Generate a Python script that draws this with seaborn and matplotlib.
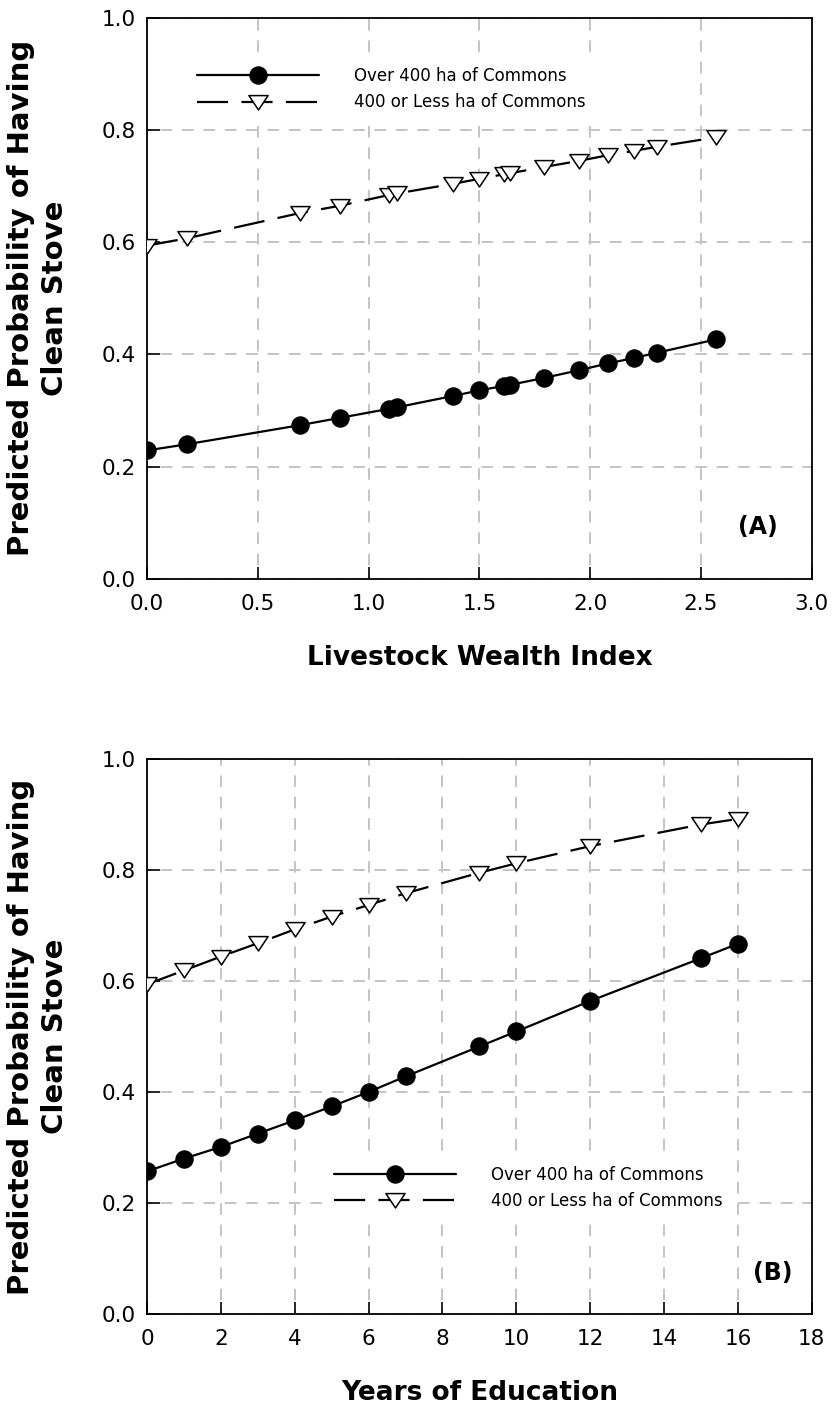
import matplotlib
matplotlib.use("Agg")
import matplotlib.pyplot as plt
import seaborn as sns
import pandas as pd
from matplotlib.path import Path

# ---------------- data ----------------
wealth_x = [0.00, 0.18, 0.69, 0.87, 1.09, 1.13, 1.38, 1.50, 1.61, 1.64, 1.79, 1.95, 2.08, 2.20, 2.30, 2.57]
wealth_over = [0.229, 0.240, 0.274, 0.287, 0.303, 0.306, 0.326, 0.336, 0.344, 0.346, 0.358, 0.372, 0.384, 0.394, 0.403, 0.427]
wealth_less = [0.594, 0.607, 0.652, 0.665, 0.684, 0.687, 0.704, 0.713, 0.721, 0.723, 0.734, 0.745, 0.755, 0.763, 0.770, 0.787]

edu_x = [0, 1, 2, 3, 4, 5, 6, 7, 9, 10, 12, 15, 16]
edu_over = [0.257, 0.280, 0.301, 0.325, 0.349, 0.374, 0.400, 0.428, 0.482, 0.509, 0.564, 0.641, 0.667]
edu_less = [0.594, 0.619, 0.644, 0.668, 0.693, 0.716, 0.737, 0.758, 0.795, 0.812, 0.843, 0.882, 0.892]

series_labels = ["Over 400 ha of Commons", "400 or Less ha of Commons"]
y_label = "Predicted Probability of Having\nClean Stove"
x_labels = ["Livestock Wealth Index", "Years of Education"]
panel_tags = ["(A)", "(B)"]
x_ticks = [[0.0, 0.5, 1.0, 1.5, 2.0, 2.5, 3.0], [0, 2, 4, 6, 8, 10, 12, 14, 16, 18]]
x_ticklabels = [["0.0", "0.5", "1.0", "1.5", "2.0", "2.5", "3.0"],
                ["0", "2", "4", "6", "8", "10", "12", "14", "16", "18"]]
y_ticks = [0.0, 0.2, 0.4, 0.6, 0.8, 1.0]
y_ticklabels = ["0.0", "0.2", "0.4", "0.6", "0.8", "1.0"]

# ---------------- style ----------------
sns.set_theme(style="ticks")
plt.rcParams["font.family"] = ["DejaVu Sans"]
plt.rcParams.update({
    "text.color": "black", "axes.labelcolor": "black",
    "xtick.color": "black", "ytick.color": "black",
    "xtick.direction": "in", "ytick.direction": "in",
    "xtick.major.size": 9, "ytick.major.size": 9,
    "xtick.major.width": 1.2, "ytick.major.width": 1.2,
    "xtick.top": False, "ytick.right": False,
    "xtick.bottom": True, "ytick.left": True,
})

tri = Path([(-1.0, 0.72), (1.0, 0.72), (0.0, -0.78), (-1.0, 0.72)],
           [Path.MOVETO, Path.LINETO, Path.LINETO, Path.CLOSEPOLY])

fig = plt.figure(figsize=(8.33, 14.10), dpi=100)
ax1 = fig.add_axes([0.1765, 0.5894, 0.798, 0.398])
ax2 = fig.add_axes([0.1765, 0.0681, 0.798, 0.3936])

panels = [
    (ax1, wealth_x, wealth_over, wealth_less, (0, 3.0), (0.065, 0.8725), (0.919, 0.093)),
    (ax2, edu_x, edu_over, edu_less, (0, 18), (0.272, 0.227), (0.941, 0.074)),
]

for i, (ax, xs, yo, yl, xlim, leg_anchor, tag_pos) in enumerate(panels):
    df_o = pd.DataFrame({"x": xs, "y": yo})
    df_l = pd.DataFrame({"x": xs, "y": yl})
    sns.lineplot(data=df_o, x="x", y="y", ax=ax, color="black", lw=1.6,
                 marker="o", markersize=12.5, markerfacecolor="black",
                 markeredgecolor="black", label=series_labels[0], zorder=3)
    sns.lineplot(data=df_l, x="x", y="y", ax=ax, color="black", lw=1.6,
                 dashes=(14, 6), marker=tri, markersize=13.8,
                 markerfacecolor="white", markeredgecolor="black",
                 markeredgewidth=1.1, label=series_labels[1], zorder=3)

    ax.set_xlim(*xlim)
    ax.set_ylim(0, 1.0)
    ax.set_xticks(x_ticks[i])
    ax.set_xticklabels(x_ticklabels[i])
    ax.set_yticks(y_ticks)
    ax.set_yticklabels(y_ticklabels)
    ax.grid(True, color="#c4c4c4", lw=1.4, linestyle=(4, (6, 5)), zorder=0)
    ax.set_axisbelow(True)
    for s in ax.spines.values():
        s.set_visible(True)
        s.set_color("black")
        s.set_linewidth(1.3)
    ax.tick_params(axis="both", which="major", direction="in", length=9, width=1.2,
                   color="black", labelcolor="black", labelsize=15.5, left=True, bottom=True,
                   top=False, right=False)
    ax.tick_params(axis="x", pad=11)
    ax.tick_params(axis="y", pad=8)

    ax.set_xlabel(x_labels[i], fontsize=19, fontweight="bold", labelpad=22)
    ax.set_ylabel(y_label, fontsize=21, fontweight="bold", linespacing=1.28)
    ax.yaxis.set_label_coords(-0.117, 0.5)

    leg = ax.legend(loc="center left", bbox_to_anchor=leg_anchor, frameon=True,
                    handlelength=7.3, handletextpad=2.1,
                    labelspacing=0.5, borderpad=0.4, borderaxespad=0.0,
                    fancybox=False, edgecolor="white", framealpha=1.0,
                    prop={"family": "DejaVu Sans", "size": 12})
    leg.get_frame().set_linewidth(0)
    for t in leg.get_texts():
        t.set_color("black")

    ax.text(tag_pos[0], tag_pos[1], panel_tags[i], transform=ax.transAxes,
            ha="center", va="center", fontsize=17, fontweight="bold",
            family="DejaVu Sans", color="black",
            bbox=dict(facecolor="white", edgecolor="none", pad=3), zorder=4)

fig.savefig("out.png", dpi=100, facecolor="white")
